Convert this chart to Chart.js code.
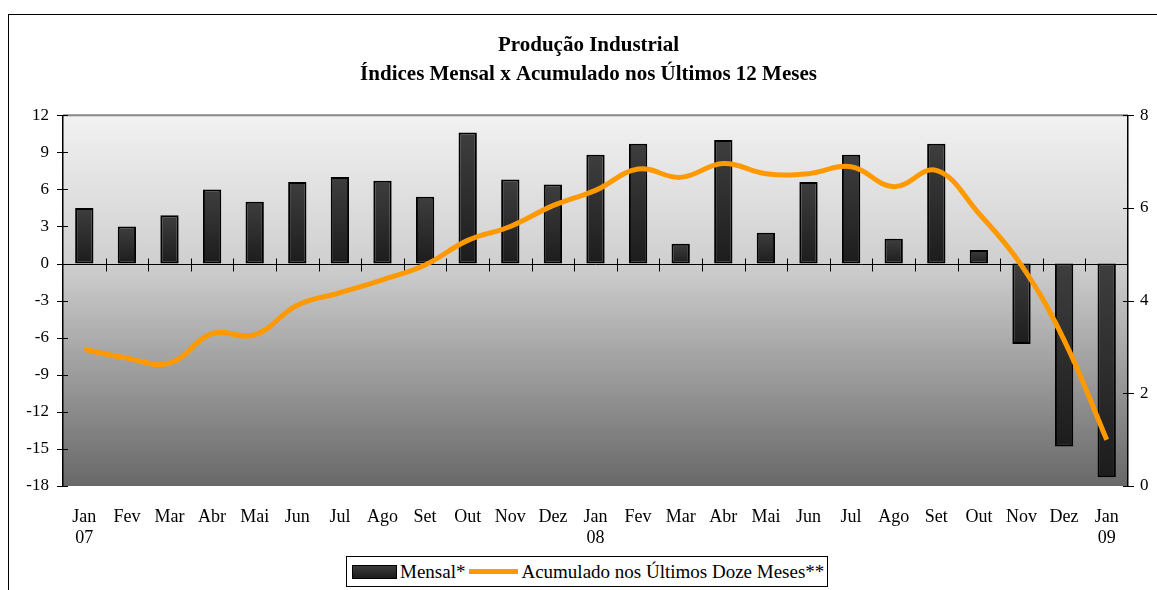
<!DOCTYPE html>
<html>
<head>
<meta charset="utf-8">
<script src="https://cdn.jsdelivr.net/npm/chart.js@4"></script>
<style>
  html, body { margin: 0; padding: 0; background: #fff; }
  #wrap { position: relative; width: 1157px; height: 590px; overflow: hidden; }
  #legenda {
    position: absolute; left: 346px; top: 556px; height: 29px;
    border: 1px solid #000; background: #fff;
    display: flex; align-items: center; padding: 0 3px 0 5px;
    font-family: "Liberation Serif", serif; font-size: 19px; color: #000;
    white-space: nowrap;
  }
  .sw-bar { width: 43px; height: 12px; border: 1px solid #000;
    background: linear-gradient(#3c3c3c, #1c1c1c); margin-right: 3px; }
  .sw-line { width: 49px; height: 5px; background: #ff9900; margin: 0 3px 0 4px; }
</style>
</head>
<body>
<div id="wrap">
  <canvas id="producaoChart" width="1157" height="590"></canvas>
  <div id="legenda">
    <span class="sw-bar"></span><span>Mensal*</span>
    <span class="sw-line"></span><span>Acumulado nos Últimos Doze Meses**</span>
  </div>
</div>
<script>
const meses = ["Jan", "Fev", "Mar", "Abr", "Mai", "Jun", "Jul", "Ago", "Set", "Out", "Nov", "Dez",
  "Jan", "Fev", "Mar", "Abr", "Mai", "Jun", "Jul", "Ago", "Set", "Out", "Nov", "Dez", "Jan"];
const anos = ["07", "", "", "", "", "", "", "", "", "", "", "",
  "08", "", "", "", "", "", "", "", "", "", "", "", "09"];

const mensal = [4.5, 3.0, 3.9, 6.0, 5.0, 6.6, 7.0, 6.7, 5.4, 10.6, 6.8, 6.4,
  8.8, 9.7, 1.6, 10.0, 2.5, 6.6, 8.8, 2.0, 9.7, 1.1, -6.5, -14.8, -17.3];
const acumulado = [2.95, 2.76, 2.65, 3.29, 3.26, 3.9, 4.17, 4.45, 4.77, 5.3, 5.6, 6.05,
  6.38, 6.84, 6.66, 6.96, 6.74, 6.74, 6.89, 6.46, 6.81, 5.88, 4.76, 3.15, 1.0];

const labels = meses.map((m, i) => anos[i] ? [m, anos[i]] : m);
const fonte = "'Liberation Serif', 'Times New Roman', serif";

const moldura = {
  id: "moldura",
  beforeDraw(chart) {
    const { ctx, chartArea: a } = chart;
    ctx.save();
    ctx.fillStyle = "#fff";
    ctx.fillRect(0, 0, chart.width, chart.height);
    ctx.strokeStyle = "#000";
    ctx.lineWidth = 1;
    ctx.strokeRect(8.5, 14.5, 1400, 800);

    const g = ctx.createLinearGradient(0, a.top, 0, a.bottom);
    g.addColorStop(0, "#f2f2f2");
    g.addColorStop(0.4, "#cfcfcf");
    g.addColorStop(1, "#686868");
    ctx.fillStyle = g;
    ctx.fillRect(a.left, a.top, a.right - a.left, a.bottom - a.top);

    ctx.strokeStyle = "#888";
    ctx.lineWidth = 2;
    ctx.beginPath();
    ctx.moveTo(a.left, a.top);
    ctx.lineTo(a.right, a.top);
    ctx.stroke();
    ctx.restore();
  },
  beforeDatasetsDraw(chart) {
    const { ctx, chartArea: a, scales } = chart;
    const zero = Math.round(scales.y.getPixelForValue(0)) + 0.5;
    ctx.save();
    ctx.strokeStyle = "#000";
    ctx.lineWidth = 1;
    ctx.beginPath();
    ctx.moveTo(a.left, zero);
    ctx.lineTo(a.right, zero);
    for (let i = 0; i < labels.length - 1; i++) {
      const x = Math.round((scales.x.getPixelForValue(i) + scales.x.getPixelForValue(i + 1)) / 2) + 0.5;
      ctx.moveTo(x, zero - 6);
      ctx.lineTo(x, zero + 7);
    }
    scales.y.ticks.forEach(t => {
      const y = Math.round(scales.y.getPixelForValue(t.value)) + 0.5;
      ctx.moveTo(a.left - 6, y);
      ctx.lineTo(a.left + 5, y);
    });
    scales.y2.ticks.forEach(t => {
      const y = Math.round(scales.y2.getPixelForValue(t.value)) + 0.5;
      ctx.moveTo(a.right - 5, y);
      ctx.lineTo(a.right + 6, y);
    });
    ctx.stroke();
    ctx.restore();
  }
};

function corBarra(context) {
  const chart = context.chart;
  if (!chart.chartArea) return "#2c2c2c";
  const y = chart.scales.y;
  const v = context.raw;
  const topo = y.getPixelForValue(Math.max(v, 0));
  const base = y.getPixelForValue(Math.min(v, 0));
  const g = chart.ctx.createLinearGradient(0, topo, 0, base + 1);
  g.addColorStop(0, "#3e3e3e");
  g.addColorStop(1, "#1c1c1c");
  return g;
}

new Chart(document.getElementById("producaoChart"), {
  data: {
    labels: labels,
    datasets: [
      {
        type: "bar",
        label: "Mensal*",
        data: mensal,
        yAxisID: "y",
        backgroundColor: corBarra,
        borderColor: "#000",
        borderWidth: 2,
        borderSkipped: false,
        barPercentage: 0.43,
        categoryPercentage: 1,
        order: 1
      },
      {
        type: "line",
        label: "Acumulado nos Últimos Doze Meses**",
        data: acumulado,
        yAxisID: "y2",
        borderColor: "#ff9900",
        borderWidth: 5,
        pointRadius: 0,
        tension: 0.4,
        fill: false,
        order: 0
      }
    ]
  },
  options: {
    responsive: false,
    animation: false,
    layout: { padding: { left: 20, right: 0, top: 0, bottom: 0 } },
    plugins: {
      legend: { display: false },
      tooltip: { enabled: false },
      title: {
        display: true,
        text: ["Produção Industrial", "Índices Mensal x Acumulado nos Últimos 12 Meses"],
        color: "#000",
        font: { family: fonte, size: 21, weight: "bold", lineHeight: 1.34 },
        padding: { top: 32, bottom: 27 }
      }
    },
    scales: {
      x: {
        offset: true,
        grid: { display: false, drawTicks: false },
        border: { display: false },
        ticks: {
          color: "#000",
          font: { family: fonte, size: 18, lineHeight: 1.17 },
          padding: 21,
          maxRotation: 0,
          autoSkip: false
        },
        afterFit(scale) { scale.height = 104; }
      },
      y: {
        position: "left",
        min: -18,
        max: 12,
        grid: { display: false, drawTicks: false },
        border: { display: true, color: "#000", width: 1.5 },
        ticks: {
          stepSize: 3,
          color: "#000",
          font: { family: fonte, size: 17 },
          padding: 14
        },
        afterFit(scale) { scale.width = 43; }
      },
      y2: {
        position: "right",
        min: 0,
        max: 8,
        grid: { display: false, drawTicks: false },
        border: { display: true, color: "#000", width: 1.5 },
        ticks: {
          stepSize: 2,
          color: "#000",
          font: { family: fonte, size: 17 },
          padding: 12
        },
        afterFit(scale) { scale.width = 29; }
      }
    }
  },
  plugins: [moldura]
});
</script>
</body>
</html>
